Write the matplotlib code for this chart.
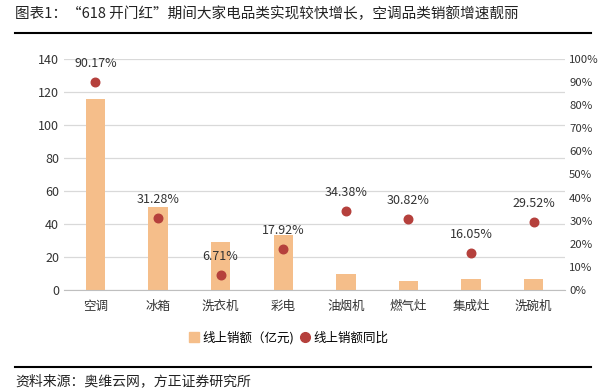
import matplotlib.pyplot as plt
from matplotlib.lines import Line2D
from matplotlib.ticker import PercentFormatter

plt.rcParams['font.family'] = ['Noto Sans CJK SC', 'DejaVu Sans']

# data
categories = ['空调', '冰箱', '洗衣机', '彩电', '油烟机', '燃气灶', '集成灶', '洗碗机']
sales = [116, 50, 29, 33.5, 10, 5.5, 6.5, 6.5]  # 亿元
yoy = [90.17, 31.28, 6.71, 17.92, 34.38, 30.82, 16.05, 29.52]  # %

bar_color = '#F5BE8A'
dot_color = '#B5403C'

fig = plt.figure(figsize=(6, 3.92), dpi=100)
ax = fig.add_axes([0.1067, 0.2602, 0.835, 0.5893])
x = range(len(categories))

ax.bar(x, sales, width=0.31, color=bar_color, zorder=2)
ax.set_ylim(0, 140)
ax.set_yticks(range(0, 141, 20))
ax.set_xlim(-0.5, len(categories) - 0.5)
ax.set_xticks(list(x))
ax.set_xticklabels(categories, fontsize=9)
ax.grid(axis='y', color='#D9D9D9', linewidth=0.9, zorder=0)
ax.tick_params(axis='both', length=0, labelsize=9, colors='#333333')
ax.tick_params(axis='x', pad=7)
for s in ax.spines.values():
    s.set_visible(False)
ax.spines['bottom'].set_visible(True)
ax.spines['bottom'].set_color('#BFBFBF')

ax2 = ax.twinx()
ax2.scatter(x, yoy, s=38, color=dot_color, zorder=3)
ax2.set_ylim(0, 100)
ax2.set_yticks(range(0, 101, 10))
ax2.yaxis.set_major_formatter(PercentFormatter(decimals=0))
ax2.tick_params(axis='y', length=0, labelsize=8.2, colors='#333333', pad=3)
for s in ax2.spines.values():
    s.set_visible(False)

for xi, v in zip(x, yoy):
    ax2.annotate(f'{v:.2f}%', (xi, v), xytext=(0, 13), textcoords='offset points',
                 ha='center', va='center', fontsize=9, color='#333333')

handles = [
    Line2D([], [], marker='s', linestyle='', color=bar_color, markersize=7),
    Line2D([], [], marker='o', linestyle='', color=dot_color, markersize=7),
]
fig.legend(handles, ['线上销额（亿元)', '线上销额同比'], loc='center',
           bbox_to_anchor=(0.48, 0.138), ncol=2, frameon=False, fontsize=9,
           handletextpad=0.2, columnspacing=0.3, handlelength=1)

# title, rules and source
fig.text(0.025, 0.965, '图表1：“618 开门红”期间大家电品类实现较快增长，空调品类销额增速靓丽',
         fontsize=10.5, va='center', ha='left', color='#222222')
fig.add_artist(Line2D([0.025, 0.985], [0.916, 0.916], color='black', linewidth=1.5))
fig.add_artist(Line2D([0.025, 0.985], [0.064, 0.064], color='black', linewidth=1.5))
fig.text(0.025, 0.028, '资料来源：奥维云网，方正证券研究所', fontsize=10,
         va='center', ha='left', color='#222222', style='italic')

fig.savefig('out.png', dpi=100, facecolor='white')
